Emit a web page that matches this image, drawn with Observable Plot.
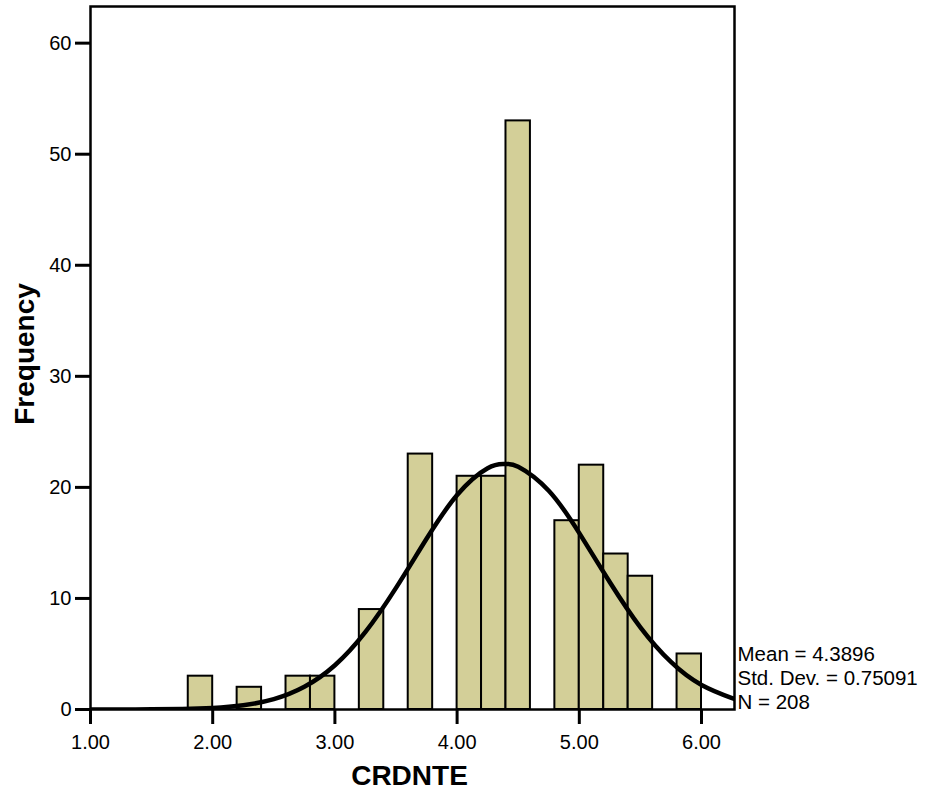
<!DOCTYPE html>
<html>
<head>
<meta charset="utf-8">
<script src="https://cdn.jsdelivr.net/npm/d3@7"></script>
<script src="https://cdn.jsdelivr.net/npm/@observablehq/plot@0.6"></script>
<style>
  html, body { margin: 0; padding: 0; background: #fff; }
  #chart { width: 927px; height: 796px; }
  svg { font-family: "Liberation Sans", Arial, sans-serif; }
</style>
</head>
<body>
<div id="chart"></div>
<script>
// Histogram bins (lower edge) and frequencies
const binStarts = [1.8, 2.2, 2.6, 2.8, 3.2, 3.6, 4.0, 4.2, 4.4, 4.8, 5.0, 5.2, 5.4, 5.8];
const counts    = [3,   2,   3,   3,   9,   23,  21,  21,  53,  17,  22,  14,  12,  5];
const binWidth = 0.2;

// Fitted normal curve
const curveX = [1.0, 1.25, 1.5, 1.75, 2.0, 2.25, 2.5, 2.75, 3.0, 3.25, 3.5, 3.75, 4.0, 4.25, 4.39, 4.5, 4.75, 5.0, 5.25, 5.5, 5.75, 6.0, 6.25, 6.27];
const curveY = [0.001, 0.004, 0.013, 0.046, 0.14, 0.38, 0.93, 2.04, 3.98, 6.98, 10.95, 15.37, 19.31, 21.72, 22.1, 21.86, 19.70, 15.88, 11.46, 7.40, 4.28, 2.21, 1.03, 0.96];

const xTicks = [1, 2, 3, 4, 5, 6];
const yTicks = [0, 10, 20, 30, 40, 50, 60];
const statsText = ["Mean = 4.3896", "Std. Dev. = 0.75091", "N = 208"];

const bars = binStarts.map((b, i) => ({x1: b, x2: b + binWidth, y: counts[i]}));
const curve = curveX.map((x, i) => ({x, y: curveY[i]}));

const chart = Plot.plot({
  width: 927,
  height: 796,
  marginLeft: 90,
  marginRight: 193,
  marginTop: 6,
  marginBottom: 87,
  style: {fontFamily: "'Liberation Sans', Arial, sans-serif", fontSize: "20px", color: "#000", background: "#fff"},
  x: {domain: [1, 6.27]},
  y: {domain: [0, 63.3]},
  marks: [
    Plot.rectY(bars, {x1: "x1", x2: "x2", y: "y", fill: "#d3cf98", stroke: "#000", strokeWidth: 2, inset: 0}),
    Plot.line(curve, {x: "x", y: "y", curve: "natural", stroke: "#000", strokeWidth: 4.5, clip: true}),
    Plot.frame({stroke: "#000", strokeWidth: 2.5}),
    Plot.axisX(xTicks, {tickSize: 15, tickPadding: 10, strokeWidth: 3, tickFormat: d => d.toFixed(2), fontSize: 20, label: null}),
    Plot.axisY(yTicks, {tickSize: 15, tickPadding: 4, strokeWidth: 3, fontSize: 20, label: null}),
    Plot.text(["CRDNTE"], {frameAnchor: "bottom", lineAnchor: "middle", textAnchor: "middle", dx: -3, dy: 67, fontSize: 28, fontWeight: "bold", text: d => d}),
    Plot.text(["Frequency"], {frameAnchor: "left", lineAnchor: "middle", textAnchor: "middle", dx: -65.5, dy: -4, rotate: -90, fontSize: 28, fontWeight: "bold", text: d => d}),
    Plot.text([statsText.join("\n")], {frameAnchor: "bottom-right", textAnchor: "start", lineAnchor: "bottom", dx: 3, dy: -1, lineHeight: 1.17, fontSize: 20.5, text: d => d})
  ]
});
// make the axis tick marks heavy like the original
d3.select(chart).selectAll('g[aria-label="x-axis tick"], g[aria-label="y-axis tick"]')
  .attr("stroke-width", 3)
  .selectAll("path").style("stroke-width", "3px").style("stroke", "#000");
document.getElementById("chart").appendChild(chart);
</script>
</body>
</html>
